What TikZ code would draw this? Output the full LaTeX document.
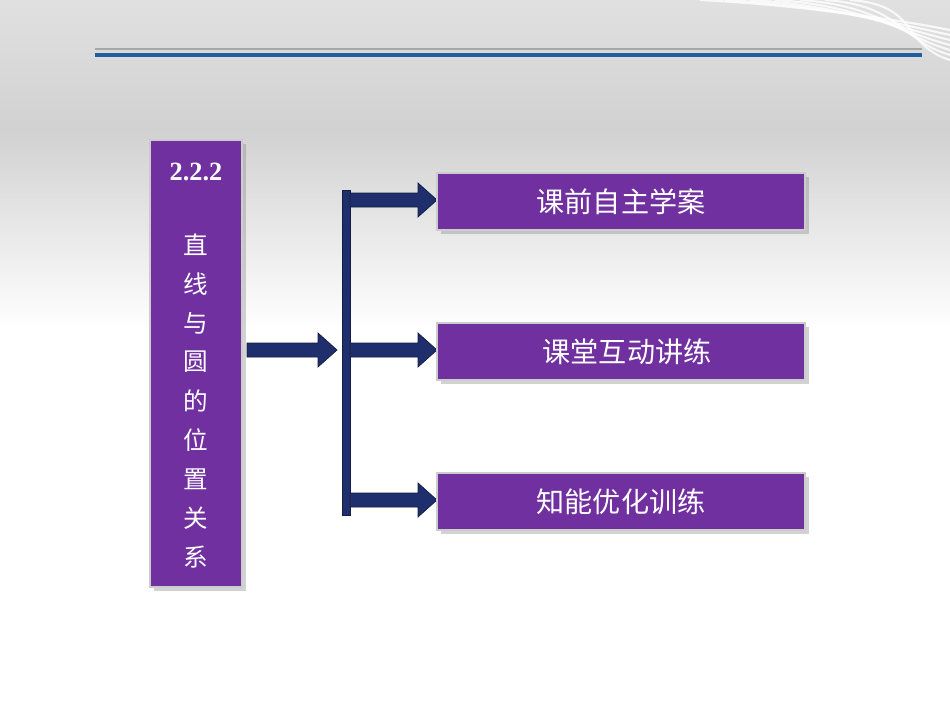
\documentclass[tikz,border=0pt]{standalone}
\usepackage{fontspec}
\newfontfamily\cjk{Noto Sans CJK SC}
\setmainfont{Liberation Serif}
\usetikzlibrary{shadows}
\definecolor{pur}{HTML}{7030A0}
\definecolor{navy}{HTML}{1F2F6E}
\definecolor{lineblue}{HTML}{1F5F9F}
\tikzset{
 pbox/.style={draw=white!80!black,fill=pur,line width=0.6pt,drop shadow={opacity=0.35,shadow xshift=2pt,shadow yshift=-2pt}},
 btxt/.style={text=white,font=\cjk\fontsize{16}{18}\selectfont},
 arr/.style={fill=navy,draw=navy!60!black,line width=0.4pt}
}
\begin{document}
\begin{tikzpicture}[x=0.02cm,y=-0.02cm]
\useasboundingbox (0,0) rectangle (950,713);
\shade[top color=white!88!black,bottom color=white!82!black] (0,0) rectangle (950,130);
\shade[top color=white!82!black,bottom color=white] (0,130) rectangle (950,330);
\fill[white] (0,330) rectangle (950,713);
% swooshes
\foreach \i in {0,...,6}{
 \draw[white,line width=1.2pt,opacity=0.8] (700+\i*25,0) .. controls (800+\i*20,5) and (900,20+\i*4) .. (950,30+\i*5);}
\draw[white!65!black,line width=0.6pt] (95,49) -- (922,49);
\draw[lineblue,line width=2.2pt] (95,55) -- (922,55);
% left box
\path[pbox] (150,140) rectangle (242,587);
\node (num) at (196,172) {\textcolor{white}{\bfseries\fontsize{15}{17}\selectfont 2.2.2}};
\foreach \c [count=\k] in {直,线,与,圆,的,位,置,关,系}{
 \node[text=white,font=\cjk\fontsize{14}{16}\selectfont] (c\k) at (196,206+\k*39) {\c};}
% main arrow
\path[arr] (247,343) -- (318,343) -- (318,333) -- (337,350) -- (318,367) -- (318,357) -- (247,357) -- cycle;
% bar
\path[arr] (342,190) rectangle (350,515);
% branch arrows
\foreach \y in {200,350,500}{
 \path[arr] (350,\y-7) -- (418,\y-7) -- (418,\y-17) -- (437,\y) -- (418,\y+17) -- (418,\y+7) -- (350,\y+7) -- cycle;}
% right boxes
\path[pbox] (437,173) rectangle (805,230);
\node[btxt] (b1) at (621,202) {课前自主学案};
\path[pbox] (437,323) rectangle (805,380);
\node[btxt] (b2) at (627,352) {课堂互动讲练};
\path[pbox] (437,473) rectangle (805,530);
\node[btxt] (b3) at (621,502) {知能优化训练};
\end{tikzpicture}
\end{document}
